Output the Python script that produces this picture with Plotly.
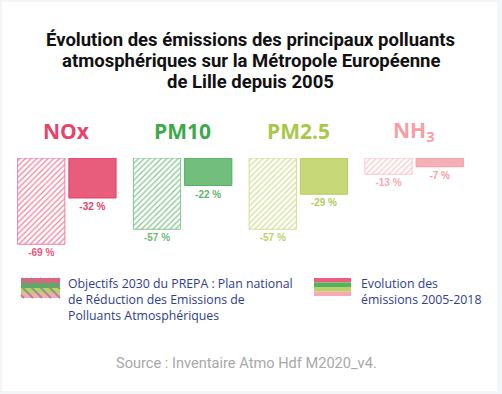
import plotly.graph_objects as go

# ---- data ----
pollutants = ["NOx", "PM10", "PM2.5", "NH3"]
pollutant_labels = ["NOx", "PM10", "PM2.5", "NH<sub>3</sub>"]
objectifs_2030 = [-69, -57, -57, -13]
evolution_2005_2018 = [-32, -22, -29, -7]

title_colors = ["#e8436a", "#3ea94b", "#a9c84a", "#f3a0a6"]
solid_fill = ["#e85c7c", "#72be7c", "#c6d878", "#f5b0b5"]
solid_line = ["#e4436b", "#55b061", "#b5cd5c", "#f09ea4"]
hatch_color = ["#f27e9b", "#84c58d", "#d2df94", "#f9c6ca"]
label_obj_colors = ["#e8557a", "#6ebd78", "#bcd26a", "#f5aab0"]
label_evo_colors = ["#e4436b", "#5fb56a", "#b3cb58", "#f3a0a6"]

legend_lines_1 = ["Objectifs 2030 du PREPA : Plan national",
                  "de Réduction des Emissions de",
                  "Polluants Atmosphériques"]
legend_lines_2 = ["Evolution des", "émissions 2005-2018"]
stripe_colors = ["#ea5f80", "#52b35e", "#b9d266", "#f7aab1"]
source_text = "Source : Inventaire Atmo Hdf M2020_v4."
title_lines = ["Évolution des émissions des principaux polluants",
               "atmosphériques sur la Métropole Européenne",
               "de Lille depuis 2005"]

# ---- layout geometry ----
W, H = 502, 394
ML, MR, MT, MB = 9, 30, 158, 136
PW, PH = W - ML - MR, H - MT - MB


def px(x):
    return (x - ML) / PW


def py(y):
    return (H - MB - y) / PH


fig = go.Figure()

fig.add_trace(go.Bar(
    x=pollutants, y=objectifs_2030,
    marker=dict(color=hatch_color, line=dict(color=hatch_color, width=1),
                pattern=dict(shape="/", fillmode="replace", fgcolor=hatch_color,
                             bgcolor="white", size=4, solidity=0.3)),
    text=[f"{v} %" for v in objectifs_2030], textposition="outside",
    textfont=dict(color=label_obj_colors, size=10, family="Liberation Sans", weight="bold"),
    cliponaxis=False, showlegend=False, hoverinfo="skip",
))
fig.add_trace(go.Bar(
    x=pollutants, y=evolution_2005_2018,
    marker=dict(color=solid_fill, line=dict(color=solid_line, width=1)),
    text=[f"{v} %" for v in evolution_2005_2018], textposition="outside",
    textfont=dict(color=label_evo_colors, size=10, family="Liberation Sans", weight="bold"),
    cliponaxis=False, showlegend=False, hoverinfo="skip",
))

annotations = []
# title
for line, yc in zip(title_lines, [40, 61, 82]):
    annotations.append(dict(text=f"<b>{line}</b>", x=px(251), y=py(yc), xref="paper", yref="paper",
                            showarrow=False, xanchor="center", yanchor="middle",
                            font=dict(family="Roboto", size=18.5, color="#111111")))
# pollutant headers
for cat, lab, col in zip(pollutants, pollutant_labels, title_colors):
    annotations.append(dict(text=f"<b>{lab}</b>", x=cat, xref="x", y=py(131), yref="paper",
                            showarrow=False, xanchor="center", yanchor="middle",
                            font=dict(family="Open Sans", size=21, color=col)))
# legend texts
for lines, x0 in [(legend_lines_1, 66), (legend_lines_2, 359)]:
    for i, line in enumerate(lines):
        annotations.append(dict(text=line, x=px(x0), y=py(283 + 16 * i), xref="paper", yref="paper",
                                showarrow=False, xanchor="left", yanchor="middle", align="left",
                                font=dict(family="Open Sans", size=12.3, color="#2f3d8e")))
# source
annotations.append(dict(text=source_text, x=px(246), y=py(363), xref="paper", yref="paper",
                        showarrow=False, xanchor="center", yanchor="middle",
                        font=dict(family="Roboto", size=14.6, color="#a8a8a8")))

shapes = []
# card background
shapes.append(dict(type="rect", xref="paper", yref="paper", x0=px(2), x1=px(497), y0=py(2), y1=py(391),
                   fillcolor="white", line=dict(width=0), layer="below"))


def icon(x0, y0, x1, y1, hatched):
    n = len(stripe_colors)
    h = (y1 - y0) / n
    for i, c in enumerate(stripe_colors):
        shapes.append(dict(type="rect", xref="paper", yref="paper", x0=px(x0), x1=px(x1),
                           y0=py(y0 + i * h), y1=py(y0 + (i + 1) * h), fillcolor=c, line=dict(width=0)))
    if hatched:
        w, hh = x1 - x0, y1 - y0
        c = 3
        while c < w + hh:
            s0, s1 = max(0, c - hh), min(w, c)
            shapes.append(dict(type="line", xref="paper", yref="paper",
                               x0=px(x0 + s0), y0=py(y1 - (c - s0)),
                               x1=px(x0 + s1), y1=py(y1 - (c - s1)),
                               line=dict(color="rgba(140,140,140,0.85)", width=2)))
            c += 9


icon(21, 278, 60, 298, True)
icon(314, 278, 351, 296, False)

fig.update_layout(
    width=W, height=H,
    margin=dict(l=ML, r=MR, t=MT, b=MB, pad=0),
    paper_bgcolor="#f3f6f8", plot_bgcolor="white",
    barmode="group", bargap=0.115, bargroupgap=0.078,
    xaxis=dict(visible=False, range=[-0.5, 3.5]),
    yaxis=dict(visible=False, range=[-80, 0]),
    annotations=annotations, shapes=shapes,
    showlegend=False,
)

fig.write_html("out.html", config={"displayModeBar": False},
               post_script="document.body.style.margin='0px';document.body.style.overflow='hidden';")
